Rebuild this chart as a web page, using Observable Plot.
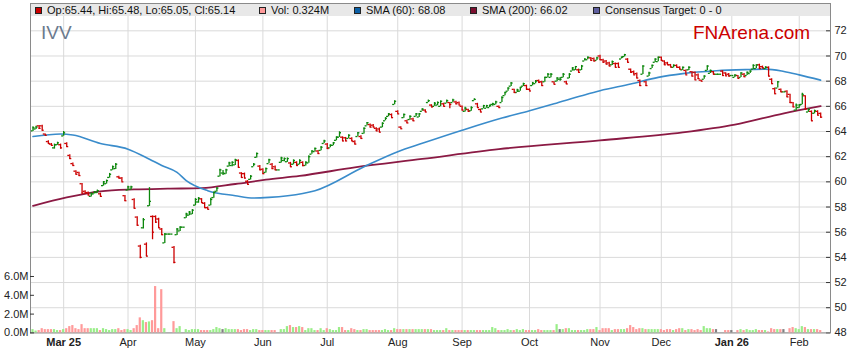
<!DOCTYPE html>
<html><head><meta charset="utf-8">
<script src="https://cdn.jsdelivr.net/npm/d3@7"></script>
<script src="https://cdn.jsdelivr.net/npm/@observablehq/plot@0.6"></script>
<style>
body{margin:0;background:#fff;font-family:Arial,"Liberation Sans",sans-serif;}
#wrap{position:relative;width:859px;height:363px;overflow:hidden;}
#wrap svg{position:absolute;left:0;top:0;}
#legend{position:absolute;left:31px;top:3.5px;width:799px;height:12.5px;background:#e8e8e8;font-size:11px;color:#111;}
.item{position:absolute;top:0;height:12.5px;line-height:13px;white-space:nowrap;}
.sw{display:inline-block;width:5px;height:5px;border:1px solid #222;margin-right:5px;vertical-align:0px;}
.wm{position:absolute;font-size:19px;line-height:19px;white-space:nowrap;}
</style>
</head><body>
<div id="wrap"></div>
<script>
// ---- data ----
const open = [64.05,64.20,64.45,64.45,63.80,63.20,63.00,62.70,62.95,62.95,63.65,63.05,62.10,61.45,60.85,60.75,59.85,59.25,59.15,58.85,59.05,59.15,59.05,59.70,59.85,60.35,60.95,61.05,60.40,60.30,58.90,59.35,59.40,58.60,57.20,54.90,56.35,55.05,58.10,57.25,57.25,57.05,56.25,55.15,55.85,55.85,54.80,55.80,56.10,56.40,57.15,57.35,57.45,58.15,58.40,58.65,58.30,57.95,58.15,58.75,59.25,60.45,60.70,60.65,61.25,61.30,61.35,61.70,60.70,60.65,60.05,60.20,61.20,61.95,61.25,61.00,60.75,61.45,61.40,61.20,60.95,61.55,61.70,61.60,61.50,61.40,61.55,61.40,61.55,61.30,61.50,62.20,62.40,62.45,62.50,63.05,63.00,62.70,62.90,63.30,63.55,63.55,63.50,63.45,63.45,63.20,63.60,63.60,63.85,64.45,64.55,64.50,64.25,64.20,64.35,64.85,65.20,65.35,66.15,65.60,64.35,65.10,64.85,64.95,65.00,65.20,65.15,65.60,65.70,66.30,66.10,66.00,66.10,66.00,66.20,66.25,66.30,66.30,66.35,66.30,66.00,65.60,65.75,65.65,66.45,66.20,65.75,65.80,65.85,65.90,66.15,66.15,66.00,66.30,66.85,67.20,67.60,67.35,67.10,67.20,67.60,67.65,67.35,67.65,67.80,68.05,67.95,67.95,68.30,68.30,67.95,68.00,68.15,68.30,67.95,68.25,68.80,68.90,68.90,68.90,69.60,69.70,69.85,69.80,69.65,70.00,69.70,69.60,69.45,69.30,69.40,69.40,69.76,69.95,69.75,68.95,68.75,68.60,68.05,68.55,67.95,68.40,69.00,69.50,69.55,69.90,69.60,69.45,69.30,69.10,69.25,69.10,68.90,68.85,68.90,68.75,68.70,68.50,68.08,68.15,68.85,68.62,68.75,68.55,68.55,68.80,68.65,68.55,68.45,68.30,68.45,68.30,68.55,68.45,68.60,68.95,69.00,69.30,69.15,69.00,69.10,68.15,67.40,67.45,67.35,67.15,67.20,66.95,66.30,65.70,65.90,66.15,66.84,65.55,65.60,65.45,65.60,65.44];
const high = [64.37,64.42,64.47,64.50,63.80,63.26,63.05,63.00,63.15,63.00,64.00,63.10,62.15,61.50,60.88,60.77,59.87,59.30,59.20,59.13,59.24,59.35,59.10,60.03,60.14,60.67,61.25,61.46,60.45,60.35,58.92,59.66,59.66,58.66,57.23,54.96,57.08,55.15,59.54,57.30,57.30,57.10,56.30,55.90,55.85,55.85,54.86,56.30,56.44,56.40,57.50,57.65,57.80,58.67,58.75,58.67,58.35,58.00,58.70,59.20,59.55,61.00,60.90,61.00,61.55,61.60,61.80,61.75,60.73,60.70,60.10,60.50,61.45,62.30,61.30,61.05,61.10,61.80,61.45,61.25,60.95,61.95,61.90,61.90,61.55,61.75,61.60,61.75,61.60,61.60,62.07,62.47,62.68,62.50,62.80,63.30,63.05,62.95,63.13,63.58,63.98,63.58,63.53,63.74,63.50,63.26,63.93,63.66,64.30,64.72,64.60,64.55,64.30,64.27,64.70,65.10,65.43,65.40,66.44,65.65,64.38,65.40,64.90,65.25,65.06,65.43,65.44,65.80,65.73,66.50,66.13,66.30,66.35,66.43,66.24,66.50,66.30,66.56,66.40,66.35,66.03,65.92,65.76,65.97,66.60,66.24,65.78,66.08,66.08,66.10,66.24,66.40,66.03,66.77,67.12,67.47,67.90,67.36,67.36,67.52,67.84,67.68,67.39,67.90,68.05,68.10,68.00,68.32,68.60,68.60,67.95,68.27,68.30,68.60,68.00,68.60,69.07,69.17,68.96,69.25,69.79,69.92,69.87,69.85,69.90,70.05,69.75,69.65,69.50,69.60,69.44,69.45,69.92,70.13,69.79,68.96,68.80,68.64,68.10,69.23,68.00,68.70,69.28,69.79,69.92,69.92,69.62,69.50,69.33,69.30,69.30,69.15,69.12,68.88,69.14,68.77,68.72,68.56,68.08,68.43,69.22,68.88,68.77,68.55,68.55,68.83,68.67,68.60,68.45,68.50,68.45,68.67,68.60,68.72,68.83,69.30,69.30,69.35,69.20,69.15,69.14,68.19,67.45,67.98,67.37,67.15,67.24,66.97,66.30,66.18,66.15,67.03,66.84,65.80,65.64,65.70,65.65,65.48];
const low = [64.00,64.16,64.16,64.05,63.65,63.00,62.85,62.60,62.90,62.60,63.63,62.73,61.78,61.25,60.56,60.45,59.03,59.03,58.90,58.80,59.03,59.10,58.80,59.66,59.82,60.30,60.93,60.98,60.24,59.98,58.44,59.30,59.35,57.86,56.49,53.90,56.25,54.06,58.05,55.40,56.70,56.30,55.73,55.10,55.85,55.85,53.50,55.73,56.05,56.40,57.10,57.30,57.40,58.10,58.30,58.30,57.90,57.80,58.10,58.70,59.20,60.40,60.50,60.60,61.20,61.20,61.30,61.10,60.30,60.25,59.78,60.15,61.20,61.90,60.90,60.60,60.70,61.45,61.00,60.90,60.95,61.50,61.60,61.55,61.15,61.35,61.25,61.35,61.20,61.25,61.47,62.20,62.37,62.20,62.47,63.05,62.60,62.70,62.87,63.26,63.53,63.20,63.20,63.42,63.20,62.95,63.58,63.40,63.80,64.45,64.30,64.30,64.00,63.92,64.30,64.85,65.17,65.06,66.12,65.38,64.20,65.06,64.64,64.90,64.80,65.17,65.12,65.60,65.52,66.30,65.92,66.00,66.05,65.97,65.97,66.24,65.80,66.30,66.13,66.08,65.65,65.55,65.55,65.60,66.45,65.87,65.52,65.80,65.85,65.90,66.00,66.13,65.87,66.30,66.85,67.20,67.57,67.04,67.10,67.20,67.57,67.30,67.20,67.63,67.79,67.84,67.60,67.92,68.30,68.27,67.73,67.95,68.00,68.27,67.73,68.20,68.80,68.85,68.64,68.85,69.60,69.70,69.60,69.55,69.65,69.65,69.45,69.33,69.17,69.25,69.07,69.05,69.76,69.92,69.44,68.64,68.48,68.19,67.57,68.53,67.57,68.37,69.00,69.49,69.55,69.60,69.25,69.25,69.10,69.05,69.07,68.90,68.85,68.48,68.85,68.35,68.08,68.14,67.98,68.15,68.83,68.61,68.50,68.55,68.55,68.40,68.40,68.35,68.45,68.30,68.19,68.30,68.30,68.45,68.60,68.93,69.00,68.93,68.98,68.95,68.35,67.76,66.97,67.45,67.10,67.15,66.70,66.23,65.90,65.65,65.85,66.12,65.70,65.52,64.80,65.40,65.25,65.05];
const close = [64.30,64.35,64.25,64.10,63.70,63.05,62.90,62.95,63.10,62.70,63.90,62.80,61.85,61.30,60.60,60.50,59.10,59.10,58.95,59.05,59.20,59.30,58.85,60.00,60.10,60.60,61.20,61.40,60.30,60.00,58.50,59.60,59.60,57.90,56.55,54.00,57.00,54.10,58.45,56.00,56.80,56.35,55.80,55.85,55.85,55.85,53.60,56.25,56.40,56.40,57.45,57.60,57.75,58.60,58.70,58.35,57.95,57.82,58.60,59.15,59.50,60.95,60.70,60.95,61.50,61.55,61.75,61.15,60.35,60.30,59.80,60.45,61.40,62.25,60.95,60.65,61.05,61.75,61.05,60.95,60.95,61.90,61.85,61.85,61.20,61.70,61.30,61.70,61.30,61.55,62.00,62.45,62.65,62.25,62.75,63.25,62.65,62.90,63.10,63.55,63.90,63.25,63.25,63.70,63.25,63.00,63.90,63.45,64.25,64.70,64.35,64.35,64.05,63.95,64.65,65.05,65.40,65.10,66.40,65.40,64.22,65.35,64.68,65.20,64.85,65.40,65.40,65.78,65.55,66.45,65.95,66.25,66.30,66.40,66.00,66.45,66.15,66.50,66.20,66.10,65.70,65.85,65.60,65.90,66.55,65.90,65.55,66.05,66.05,66.05,66.20,66.35,65.90,66.70,67.10,67.45,67.85,67.10,67.30,67.50,67.80,67.35,67.22,67.85,68.00,67.90,67.65,68.30,68.55,68.55,67.75,68.25,68.15,68.55,67.78,68.55,69.05,69.15,68.70,69.20,69.75,69.90,69.65,69.60,69.85,69.70,69.50,69.35,69.20,69.55,69.10,69.10,69.90,70.10,69.50,68.70,68.50,68.25,67.65,69.20,67.65,68.65,69.25,69.75,69.90,69.65,69.30,69.30,69.12,69.25,69.10,68.95,69.10,68.50,69.10,68.40,68.10,68.20,68.00,68.40,69.20,68.85,68.55,68.55,68.55,68.45,68.42,68.40,68.45,68.48,68.22,68.65,68.35,68.70,68.80,69.25,69.28,69.00,69.05,69.10,68.40,67.80,67.00,67.95,67.15,67.15,66.75,66.30,65.95,66.10,66.10,66.95,65.80,65.75,64.85,65.65,65.30,65.14];
const volume = [0.35,0.20,0.25,0.45,0.35,0.35,0.35,0.35,0.25,0.25,0.35,0.45,0.67,0.78,0.45,0.35,0.88,0.45,0.45,0.45,0.45,0.45,0.25,0.45,0.35,0.25,0.35,0.35,0.45,0.25,0.35,0.35,0.25,0.45,0.78,1.60,1.30,1.10,1.17,1.30,4.93,0.45,4.60,0.45,0,0,1.20,0.45,0.67,0,0.35,0.25,0.35,0.35,0.35,0.25,0.25,0.25,0.25,0.35,0.57,0.45,0.35,0.45,0.35,0.35,0.35,0.35,0.25,0.35,0.35,0.25,0.35,0.35,0.25,0.25,0.25,0.25,0.25,0.25,0,0.35,0.35,0.67,0.78,0.57,0.57,0.67,0.57,0.25,0.45,0.45,0.25,0.25,0.45,0.25,0.45,0.35,0.25,0.25,0.57,0.57,0.25,0.25,0.45,0.35,0.25,0.25,0.35,0.35,0.25,0.25,0.25,0.25,0.25,0.35,0.25,0.25,0.45,0.35,0.35,0.35,0.35,0.35,0.35,0.35,0.35,0.35,0.35,0.35,0.35,0.25,0.25,0.25,0.25,0.45,0.25,0.25,0.25,0.25,0.25,0.25,0.25,0.25,0.25,0.25,0.25,0.25,0.25,0.25,0.57,0.45,0.25,0.25,0.25,0.35,0.25,0.25,0.35,0.25,0.35,0.25,0.25,0.25,0.25,0.35,0.25,0.25,0.25,0.25,0.25,0.88,0.35,0.35,0.45,0.45,0.25,0.25,0.25,0.25,0.25,0.35,0.35,0.35,0.57,0.25,0.45,0.45,0.45,0.25,0.35,0.35,0.35,0.35,0.45,0.78,0.57,0.35,0.45,0.45,0.35,0.35,0.35,0.35,0.35,0.35,0.25,0.35,0.35,0.25,0.35,0.45,0.45,0.25,0.35,0.35,0.25,0.35,0.25,0.67,0.45,0.45,0.35,0.35,0,0,0.25,0.25,0.25,0,0.25,0.35,0.25,0.35,0.25,0.25,0.35,0.25,0.25,0.25,0.10,0.45,0.35,0.35,0.35,0.35,0,0.45,0.57,0.45,0.35,0.67,0.57,0.35,0.35,0.35,0.35,0.25,0.324];
// moving averages read at sample bars [bar index, value]
const sma60 = [[0,63.6],[9,63.8],[13,63.72],[22,63.05],[31,62.6],[38,61.8],[42,61.3],[47,60.75],[50,60.1],[57,59.3],[66,58.9],[72,58.72],[77,58.77],[88,59.08],[92,59.3],[108,61.2],[119,62.4],[127,63.06],[140,64.1],[153,65.07],[162,65.65],[170,66.2],[179,66.84],[185,67.24],[195,67.77],[204,68.3],[212,68.6],[223,68.83],[234,68.93],[239,68.96],[245,68.77],[250,68.5],[257,68.08]];
const sma200 = [[0,58.1],[11,58.77],[22,59.25],[33,59.4],[44,59.46],[55,59.5],[66,59.83],[76,60.17],[87,60.47],[105,61.15],[127,61.82],[152,62.6],[185,63.3],[212,63.93],[229,64.55],[245,65.45],[257,66.02]];
// month labels at first bar of each month
const monthIdx = [10,31,53,75,96,119,140,162,185,205,228,250];
const monthLabels = ["Mar 25","Apr","May","Jun","Jul","Aug","Sep","Oct","Nov","Dec","Jan 26","Feb"];
const boldLabels = ["Mar 25","Jan 26"];
const priceTicks = [48,50,52,54,56,58,60,62,64,66,68,70,72];
const volTicks = [0,2,4,6];

// ---- build ----
const bars = close.map((c,i)=>({i, o:open[i], h:high[i], l:low[i], c, v:volume[i]}));
const GREEN = "#0c870c", RED = "#cc0000";
const barColor = d => d.c >= d.o ? GREEN : RED;
const volColor = d => d.c > d.o ? "#99ee88" : d.c < d.o ? "#ff9a9a" : "#808080";
const months = monthIdx.map((i,k)=>({i, label:monthLabels[k], bold:boldLabels.includes(monthLabels[k])}));
const xDomain = [-0.82, 260.2];
const yTop = 74.17;
const font = "Arial, 'Liberation Sans', sans-serif";
const common = {width:859, height:363, marginLeft:30, marginRight:29, marginTop:3, marginBottom:30.6};

const pricePlot = Plot.plot({
  ...common,
  x:{domain:xDomain, axis:null, label:null},
  y:{domain:[48, yTop], axis:null, label:null},
  style:{background:"#fff", fontFamily:font, fontSize:"11px", color:"#222"},
  marks:[
    Plot.ruleY(priceTicks, {stroke:"#dadada", strokeWidth:1}),
    Plot.ruleX(monthIdx, {y1:48, y2:yTop, stroke:"#dadada", strokeWidth:1}),
    Plot.line(sma200, {x:d=>d[0], y:d=>d[1], stroke:"#8b1a44", strokeWidth:1.8, curve:"monotone-x"}),
    Plot.line(sma60, {x:d=>d[0], y:d=>d[1], stroke:"#3a8ccb", strokeWidth:1.6, curve:"monotone-x"}),
    Plot.ruleX(bars, {x:"i", y1:"l", y2:"h", stroke:barColor, strokeWidth:1.3}),
    Plot.ruleY(bars, {y:"o", x1:d=>d.i-0.65, x2:"i", stroke:barColor, strokeWidth:1.3}),
    Plot.ruleY(bars, {y:"c", x1:"i", x2:d=>d.i+0.65, stroke:barColor, strokeWidth:1.3}),
    Plot.ruleY(priceTicks, {x1:xDomain[1]-1.3, x2:xDomain[1], stroke:"#333", strokeWidth:1}),
    Plot.axisY({anchor:"right", ticks:priceTicks, tickSize:0, tickPadding:4, tickFormat:d=>String(d), fontSize:11, fill:"#222", label:null}),
    Plot.text(months.filter(d=>!d.bold), {x:"i", y:48, text:"label", dy:10, fill:"#222", fontSize:11}),
    Plot.text(months.filter(d=>d.bold), {x:"i", y:48, text:"label", dy:10, fill:"#222", fontSize:11, fontWeight:"bold"}),
    Plot.frame({stroke:"#8a8a8a"})
  ]
});

const volPlot = Plot.plot({
  ...common,
  x:{domain:xDomain, axis:null, label:null},
  y:{domain:[0, 35.04], axis:null, label:null},
  style:{background:"transparent", fontFamily:font, fontSize:"11px", color:"#222"},
  marks:[
    Plot.rect(bars.filter(d=>d.v>0), {x1:d=>d.i-0.36, x2:d=>d.i+0.36, y1:0, y2:"v", fill:volColor}),
    Plot.ruleY(volTicks, {x1:xDomain[0], x2:xDomain[0]+1.3, stroke:"#333", strokeWidth:1}),
    Plot.axisY({anchor:"left", ticks:volTicks, tickSize:0, tickPadding:2, tickFormat:d=>d.toFixed(1)+"M", fontSize:11, fill:"#222", label:null})
  ]
});

const wrap = document.getElementById("wrap");
wrap.appendChild(pricePlot);
wrap.appendChild(volPlot);

// legend band
const legend = document.createElement("div");
legend.id = "legend";
const items = [
  {left:4, color:"#cc0000", text:"Op:65.44, Hi:65.48, Lo:65.05, Cl:65.14"},
  {left:228, color:"#ff9a9a", text:"Vol: 0.324M"},
  {left:323, color:"#0b5fa5", text:"SMA (60): 68.08"},
  {left:439, color:"#7a0d2e", text:"SMA (200): 66.02"},
  {left:562, color:"#5e5e9e", text:"Consensus Target: 0 - 0"}
];
for (const it of items) {
  const d = document.createElement("div");
  d.className = "item";
  d.style.left = it.left + "px";
  const s = document.createElement("span");
  s.className = "sw"; s.style.background = it.color;
  d.appendChild(s);
  d.appendChild(document.createTextNode(it.text));
  legend.appendChild(d);
}
wrap.appendChild(legend);

const ivv = document.createElement("div");
ivv.className = "wm"; ivv.textContent = "IVV";
ivv.style.left = "41px"; ivv.style.top = "23px"; ivv.style.color = "#6b7a8e";
wrap.appendChild(ivv);
const fn = document.createElement("div");
fn.className = "wm"; fn.textContent = "FNArena.com";
fn.style.left = "693px"; fn.style.top = "23px"; fn.style.color = "#cc0000";
wrap.appendChild(fn);
</script>
</body></html>
